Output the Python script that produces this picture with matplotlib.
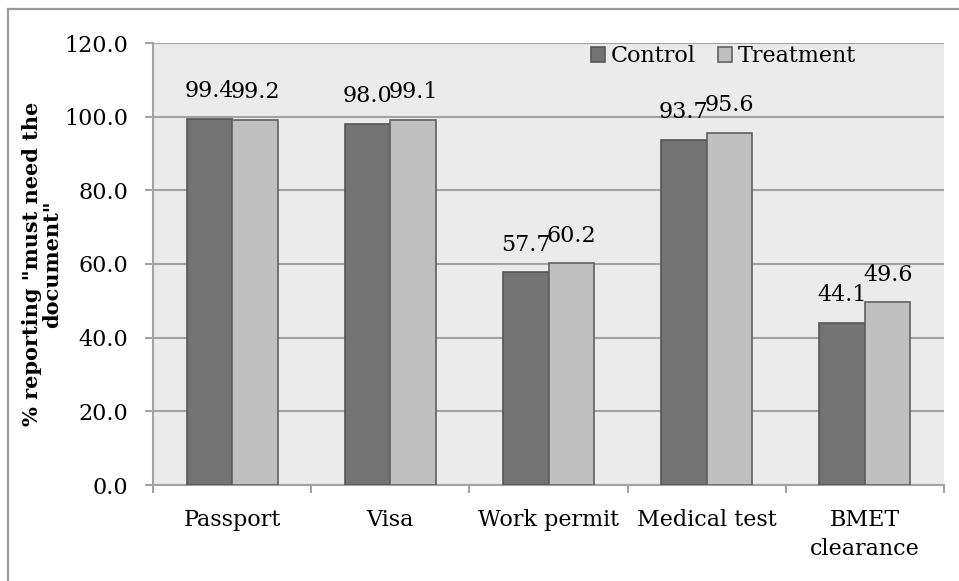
import numpy as np
import matplotlib.pyplot as plt
from matplotlib.lines import Line2D

categories = ["Passport", "Visa", "Work permit", "Medical test", "BMET\nclearance"]
control = [99.4, 98.0, 57.7, 93.7, 44.1]
treatment = [99.2, 99.1, 60.2, 95.6, 49.6]
yticks = [0, 20, 40, 60, 80, 100, 120]

plt.rcParams["font.family"] = "DejaVu Serif"
plt.rcParams["font.size"] = 16

fig = plt.figure(figsize=(9.59, 5.81), dpi=100)
ax = fig.add_axes([153 / 959, 1 - 485 / 581, (944 - 153) / 959, (485 - 43) / 581])

# frame around the chart area (only top and left edges visible)
frame_col = "#9a9a9a"
fig.add_artist(Line2D([8 / 959, 8 / 959], [0, 1 - 9 / 581], transform=fig.transFigure,
                      color=frame_col, lw=1.6))
fig.add_artist(Line2D([8 / 959, 1], [1 - 9 / 581, 1 - 9 / 581], transform=fig.transFigure,
                      color=frame_col, lw=1.6))

x = np.arange(len(categories))
w = 0.288
b1 = ax.bar(x - w / 2, control, w, color="#737373", edgecolor="#555555", lw=1.2,
            label="Control", zorder=3)
b2 = ax.bar(x + w / 2, treatment, w, color="#c0c0c0", edgecolor="#606060", lw=1.2,
            label="Treatment", zorder=3)
ax.bar_label(b1, labels=["%.1f" % v for v in control], padding=12)
ax.bar_label(b2, labels=["%.1f" % v for v in treatment], padding=12)

ax.set_facecolor("#ebebeb")
ax.set_xlim(-0.5, len(categories) - 0.5)
ax.set_ylim(0, 120)
ax.set_yticks(yticks)
ax.set_yticklabels(["%.1f" % v for v in yticks])
ax.yaxis.grid(True, color="#a3a3a3", lw=1.5, zorder=0)
ax.set_axisbelow(True)

ax.set_xticks(x)
ax.set_xticklabels(categories, linespacing=1.45)
ax.set_xticks(np.arange(len(categories) + 1) - 0.5, minor=True)
ax.tick_params(axis="x", which="major", length=0, pad=17)
ax.tick_params(axis="x", which="minor", length=6, width=1.5, color="#a3a3a3")
ax.tick_params(axis="y", length=6, width=1.5, color="#a3a3a3", pad=12)

for side in ["top", "right"]:
    ax.spines[side].set_visible(False)
for side in ["left", "bottom"]:
    ax.spines[side].set_color("#a3a3a3")
    ax.spines[side].set_linewidth(1.5)

ax.set_ylabel('% reporting "must need the\ndocument"', fontweight="bold",
              fontsize=15, labelpad=1, linespacing=1.05)

ax.legend(loc="upper right", bbox_to_anchor=(0.9, 1.015), ncol=2, frameon=False,
          handlelength=0.65, handleheight=0.65, handletextpad=0.25,
          columnspacing=1.0, borderaxespad=0)

fig.savefig("out.png", dpi=100)
